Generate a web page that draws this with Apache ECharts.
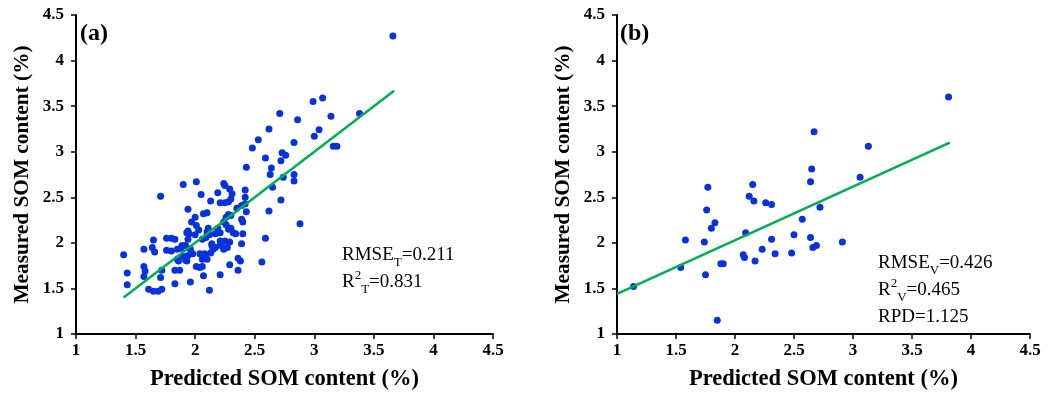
<!DOCTYPE html>
<html>
<head>
<meta charset="utf-8">
<script src="https://cdn.jsdelivr.net/npm/echarts@6/dist/echarts.min.js"></script>
<style>
  html, body { margin: 0; padding: 0; background: #ffffff; }
  #chart { width: 1049px; height: 396px; }
</style>
</head>
<body>
<div id="chart"></div>
<script>
// axis ticks shared by both panels
const tickValues = [1, 1.5, 2, 2.5, 3, 3.5, 4, 4.5];

// (a) calibration set: [predicted, measured]
const trainPoints = [
  [3.66, 4.27], [2.99, 3.55], [3.07, 3.59], [2.71, 3.42], [2.86, 3.35], [3.14, 3.39], [3.38, 3.42],
  [2.62, 3.25], [2.53, 3.13], [3.00, 3.17], [3.04, 3.24], [2.48, 3.04], [2.83, 3.10], [3.16, 3.06],
  [3.19, 3.06], [2.59, 2.93], [2.73, 2.99], [2.76, 2.96], [2.72, 2.90], [2.43, 2.83], [2.64, 2.82],
  [2.63, 2.75], [2.74, 2.72], [2.83, 2.75], [2.83, 2.68], [2.65, 2.61], [2.72, 2.47], [2.62, 2.35],
  [2.88, 2.21], [2.59, 2.05], [2.56, 1.79],
  [1.71, 2.51], [1.90, 2.64], [2.01, 2.67], [2.05, 2.53], [1.94, 2.37], [2.00, 2.28], [1.97, 2.23],
  [2.07, 2.32], [2.10, 2.33], [2.03, 2.14], [1.94, 2.13], [1.95, 2.10], [1.94, 2.04], [2.13, 2.46],
  [2.24, 2.65], [2.25, 2.63], [2.29, 2.59], [2.31, 2.54], [2.42, 2.58], [2.19, 2.55], [2.21, 2.44],
  [2.25, 2.44], [2.28, 2.45], [2.30, 2.48], [2.42, 2.50], [2.42, 2.43], [2.35, 2.38], [2.39, 2.41],
  [2.43, 2.34], [2.30, 2.30], [2.26, 2.28], [2.28, 2.31], [2.39, 2.26], [2.40, 2.23], [2.24, 2.23],
  [2.26, 2.20], [2.28, 2.15], [2.30, 2.16], [2.19, 2.16], [2.11, 2.16], [2.10, 2.12], [2.32, 2.11],
  [2.34, 2.10], [2.40, 2.10], [2.17, 2.10], [2.21, 2.11], [2.21, 2.02], [2.25, 2.02], [2.29, 2.01],
  [2.39, 1.99], [2.14, 1.99], [2.17, 1.95], [2.21, 1.98], [2.06, 2.04], [2.09, 2.06], [2.12, 2.09],
  [2.01, 2.19], [2.00, 2.09], [1.93, 2.11],
  [1.40, 1.87], [1.57, 1.93], [1.64, 1.95], [1.66, 1.90], [1.43, 1.67], [1.43, 1.54], [1.57, 1.74],
  [1.57, 1.63], [1.58, 1.69], [1.61, 1.49], [1.65, 1.47], [1.69, 1.47], [1.72, 1.49], [1.71, 1.62],
  [1.72, 1.70], [1.65, 2.03], [1.76, 2.05], [1.80, 2.05], [1.83, 2.04], [1.76, 1.92], [1.80, 1.91],
  [1.85, 1.93], [1.89, 1.97], [1.85, 1.82], [1.86, 1.80], [1.90, 1.85], [1.92, 1.81], [1.94, 1.86],
  [1.83, 1.70], [1.87, 1.70], [1.83, 1.55], [1.96, 1.57], [2.04, 1.88], [2.08, 1.88], [2.06, 1.82],
  [2.10, 1.82], [2.06, 1.74], [2.07, 1.64], [2.01, 1.74], [1.92, 1.97], [1.96, 1.93], [1.98, 1.88],
  [2.12, 1.48], [2.14, 1.97], [2.15, 1.93], [2.24, 1.93], [2.27, 1.95], [2.22, 1.97], [2.36, 1.83],
  [2.38, 1.80], [2.29, 1.76], [2.36, 1.70], [2.21, 1.65], [2.04, 1.73], [2.13, 1.89], [1.93, 1.80],
  [1.88, 1.94]
];
const trainFit = [[1.40, 1.40], [3.67, 3.67]];

// (b) validation set
const validPoints = [
  [1.14, 1.52], [1.54, 1.73], [1.58, 2.03], [1.74, 2.01], [1.75, 1.65], [1.76, 2.36], [1.77, 2.61],
  [1.80, 2.16], [1.83, 2.22], [1.85, 1.15], [1.88, 1.77], [1.90, 1.77], [2.07, 1.87], [2.08, 1.84],
  [2.09, 2.11], [2.12, 2.51], [2.15, 2.64], [2.16, 2.46], [2.17, 1.80], [2.23, 1.93], [2.26, 2.44],
  [2.31, 2.42], [2.31, 2.04], [2.34, 1.88], [2.48, 1.89], [2.50, 2.09], [2.57, 2.26], [2.64, 2.67],
  [2.64, 2.06], [2.65, 2.81], [2.67, 3.22], [2.66, 1.95], [2.69, 1.97], [2.72, 2.39], [2.91, 2.01],
  [3.06, 2.72], [3.13, 3.06], [3.81, 3.60]
];
const validFit = [[1.00, 1.44], [3.82, 3.10]];

const panelLabels = ['(a)', '(b)'];
const trainStats = { rmse: '0.211', r2: '0.831' };
const validStats = { rmse: '0.426', r2: '0.465', rpd: '1.125' };

const serif = '"Liberation Serif", "Times New Roman", serif';
const pointColor = '#0833dc';
const fitColor = '#00b050';

function makeAxis(gridIndex, type) {
  const isX = type === 'x';
  return {
    type: 'value',
    gridIndex: gridIndex,
    min: tickValues[0],
    max: tickValues[tickValues.length - 1],
    interval: tickValues[1] - tickValues[0],
    name: isX ? 'Predicted SOM content (%)' : 'Measured SOM content (%)',
    nameLocation: 'middle',
    nameGap: isX ? 34 : 43,
    nameTextStyle: { fontFamily: serif, fontWeight: 'bold', fontSize: isX ? 22.5 : 21.3, color: '#000' },
    axisLine: { show: true, onZero: false, lineStyle: { color: '#000', width: 2 } },
    axisTick: { show: true, inside: false, length: 5, lineStyle: { color: '#000', width: 1.5 } },
    splitLine: { show: false },
    axisLabel: {
      fontFamily: serif, fontWeight: 'bold', fontSize: 17, color: '#000',
      margin: isX ? 8 : 12
    }
  };
}

function scatter(idx, data) {
  return {
    type: 'scatter', xAxisIndex: idx, yAxisIndex: idx, data: data,
    symbolSize: 7, itemStyle: { color: pointColor, opacity: 1 }, silent: true, z: 3
  };
}

function fitLine(idx, data) {
  return {
    type: 'line', xAxisIndex: idx, yAxisIndex: idx, data: data,
    showSymbol: false, lineStyle: { color: fitColor, width: 2.5 }, silent: true, z: 4
  };
}

// sub/superscripts for the statistics text
const statRich = {
  n: { fontFamily: serif, fontSize: 19, color: '#000', lineHeight: 27 },
  sub: { fontFamily: serif, fontSize: 13, color: '#000', verticalAlign: 'bottom', lineHeight: 24 },
  sup: { fontFamily: serif, fontSize: 13, color: '#000', verticalAlign: 'top', lineHeight: 25 }
};

const chart = echarts.init(document.getElementById('chart'), null, { renderer: 'canvas' });

chart.setOption({
  backgroundColor: '#ffffff',
  animation: false,
  grid: [
    { left: 76, top: 15, width: 417, height: 320 },
    { left: 617, top: 15, width: 413, height: 320 }
  ],
  xAxis: [makeAxis(0, 'x'), makeAxis(1, 'x')],
  yAxis: [makeAxis(0, 'y'), makeAxis(1, 'y')],
  series: [
    scatter(0, trainPoints), fitLine(0, trainFit),
    scatter(1, validPoints), fitLine(1, validFit)
  ],
  graphic: [
    { type: 'text', left: 80, top: 22, style: { text: panelLabels[0], fontFamily: serif, fontWeight: 'bold', fontSize: 24, fill: '#000' } },
    { type: 'text', left: 620, top: 22, style: { text: panelLabels[1], fontFamily: serif, fontWeight: 'bold', fontSize: 24, fill: '#000' } },
    {
      type: 'text', left: 342, top: 246,
      style: {
        text: '{n|RMSE}{sub|T}{n|=' + trainStats.rmse + '}\n{n|R}{sup|2}{sub|T}{n|=' + trainStats.r2 + '}',
        rich: statRich
      }
    },
    {
      type: 'text', left: 878, top: 254,
      style: {
        text: '{n|RMSE}{sub|V}{n|=' + validStats.rmse + '}\n{n|R}{sup|2}{sub|V}{n|=' + validStats.r2 + '}\n{n|RPD=' + validStats.rpd + '}',
        rich: statRich
      }
    }
  ]
});
</script>
</body>
</html>
